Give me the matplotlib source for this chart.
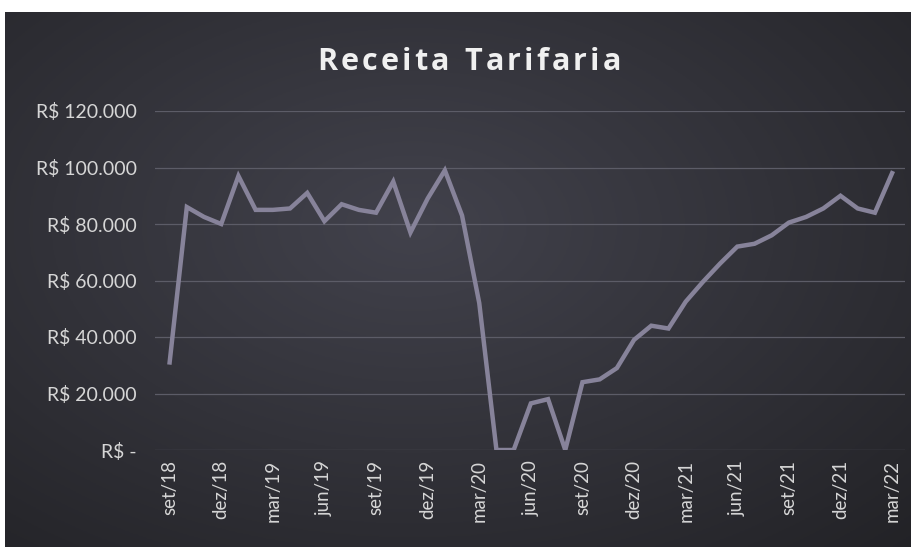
import matplotlib
matplotlib.use("Agg")
import matplotlib.pyplot as plt
import numpy as np

# monthly revenue, set/18 .. mar/22 (R$)
months = ["set/18", "out/18", "nov/18", "dez/18", "jan/19", "fev/19", "mar/19", "abr/19",
          "mai/19", "jun/19", "jul/19", "ago/19", "set/19", "out/19", "nov/19", "dez/19",
          "jan/20", "fev/20", "mar/20", "abr/20", "mai/20", "jun/20", "jul/20", "ago/20",
          "set/20", "out/20", "nov/20", "dez/20", "jan/21", "fev/21", "mar/21", "abr/21",
          "mai/21", "jun/21", "jul/21", "ago/21", "set/21", "out/21", "nov/21", "dez/21",
          "jan/22", "fev/22", "mar/22"]
receita = [31000, 86000, 82500, 80000, 97000, 85000, 85000, 85500, 91000, 81000,
           87000, 85000, 84000, 95000, 77000, 89000, 99000, 83000, 52000, 0,
           0, 16500, 18000, 0, 24000, 25000, 29000, 39000, 44000, 43000,
           52500, 59500, 66000, 72000, 73000, 76000, 80500, 82500, 85500, 90000,
           85500, 84000, 98000]

y_ticks = [0, 20000, 40000, 60000, 80000, 100000, 120000]
y_labels = ["R$ -", "R$ 20.000", "R$ 40.000", "R$ 60.000", "R$ 80.000", "R$ 100.000", "R$ 120.000"]
title = "Receita Tarifaria"

W, H = 912, 547
fig = plt.figure(figsize=(W / 100, H / 100), dpi=100, facecolor="white")

# dark vignette background
bg = fig.add_axes([5 / W, 0, 1 - 5 / W, (H - 12) / H])
bg.set_axis_off()
gy, gx = np.mgrid[0:1:200j, 0:1:320j]
d = np.sqrt(((gx - 0.45) / 0.8) ** 2 + ((gy - 0.4) / 0.85) ** 2)
shade = np.clip(1 - d, 0, 1)
c_out = np.array([34, 34, 38]) / 255
c_in = np.array([66, 66, 76]) / 255
img = c_out + (c_in - c_out) * shade[..., None]
bg.imshow(img, aspect="auto", extent=[0, 1, 0, 1], origin="upper")

ax = fig.add_axes([155 / W, (H - 450) / H, (905 - 155) / W, (450 - 111) / H])
ax.set_facecolor("none")
x = np.arange(len(receita))
ax.plot(x, receita, color="#87839a", lw=3.2, solid_joinstyle="miter", zorder=3)

ax.set_xlim(-0.85, 42.75)
ax.set_ylim(0, 120000)
ax.set_yticks(y_ticks)
ax.set_yticklabels(y_labels)
ax.set_xticks(x[::3])
ax.set_xticklabels(months[::3], rotation=90)
ax.grid(axis="y", color="#5c5c67", lw=0.9)
ax.set_axisbelow(True)
for s in ax.spines.values():
    s.set_visible(False)
ax.tick_params(axis="y", length=0, pad=13, labelsize=14, labelcolor="#d6d6d6")
ax.tick_params(axis="x", length=0, pad=7, labelsize=13.5, labelcolor="#d6d6d6")
for lab in ax.get_yticklabels() + ax.get_xticklabels():
    lab.set_family("Lato")

# title with letter spacing, drawn char by char
renderer = fig.canvas.get_renderer()
kw = dict(fontsize=22, fontweight="bold", color="#f0f0f0", family="Open Sans", va="center")
widths = []
for ch in title:
    t = fig.text(0, 0, ch if ch != " " else "n", **kw)
    w = t.get_window_extent(renderer).width
    if ch == " ":
        w *= 0.45
    widths.append(w)
    t.remove()
gap = 3.2
total = sum(widths) + gap * (len(title) - 1)
xpos = 469 - total / 2
for ch, w in zip(title, widths):
    if ch != " ":
        fig.text(xpos / W, 1 - 62 / H, ch, ha="left", **kw)
    xpos += w + gap

fig.savefig("out.png", dpi=100, facecolor="white")
